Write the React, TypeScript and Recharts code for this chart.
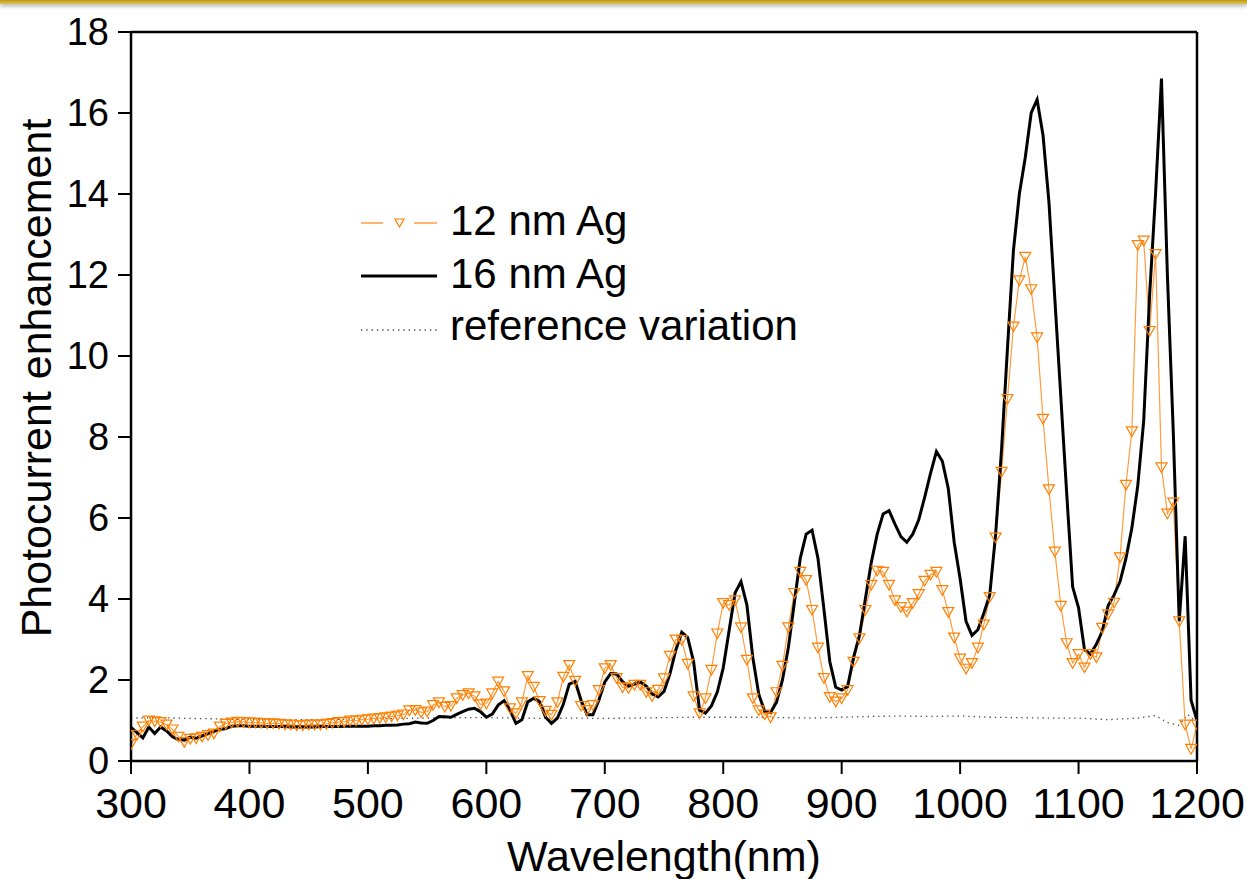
import React from "react";
import { LineChart, Line, XAxis, YAxis } from "recharts";

// wavelength grid (nm), 5 nm steps as measured
const wavelengths = [
  300, 305, 310, 315, 320, 325, 330, 335, 340, 345, 350, 355, 360, 365, 370, 375, 380, 385, 390, 395,
  400, 405, 410, 415, 420, 425, 430, 435, 440, 445, 450, 455, 460, 465, 470, 475, 480, 485, 490, 495,
  500, 505, 510, 515, 520, 525, 530, 535, 540, 545, 550, 555, 560, 565, 570, 575, 580, 585, 590, 595,
  600, 605, 610, 615, 620, 625, 630, 635, 640, 645, 650, 655, 660, 665, 670, 675, 680, 685, 690, 695,
  700, 705, 710, 715, 720, 725, 730, 735, 740, 745, 750, 755, 760, 765, 770, 775, 780, 785, 790, 795,
  800, 805, 810, 815, 820, 825, 830, 835, 840, 845, 850, 855, 860, 865, 870, 875, 880, 885, 890, 895,
  900, 905, 910, 915, 920, 925, 930, 935, 940, 945, 950, 955, 960, 965, 970, 975, 980, 985, 990, 995,
  1000, 1005, 1010, 1015, 1020, 1025, 1030, 1035, 1040, 1045, 1050, 1055, 1060, 1065, 1070, 1075, 1080, 1085, 1090, 1095,
  1100, 1105, 1110, 1115, 1120, 1125, 1130, 1135, 1140, 1145, 1150, 1155, 1160, 1165, 1170, 1175, 1180, 1185, 1190, 1195,
  1200,
];

const ag12 = [
  0.42, 0.65, 0.85, 1.0, 0.98, 0.96, 0.9, 0.78, 0.6, 0.47, 0.55, 0.56, 0.6, 0.64, 0.68, 0.85, 0.92, 0.95, 0.97, 0.96,
  0.95, 0.95, 0.94, 0.93, 0.93, 0.92, 0.9, 0.9, 0.88, 0.88, 0.9, 0.9, 0.9, 0.92, 0.94, 0.96, 0.97, 1.0, 1.0, 1.02,
  1.03, 1.05, 1.06, 1.08, 1.1, 1.12, 1.15, 1.25, 1.26, 1.2, 1.22, 1.38, 1.45, 1.34, 1.36, 1.55, 1.63, 1.67, 1.6, 1.4,
  1.42, 1.67, 1.96, 1.72, 1.3, 1.18, 1.45, 2.1, 1.83, 1.48, 1.24, 1.14, 1.45, 2.08, 2.37, 1.98, 1.36, 1.26, 1.38, 1.75,
  2.29, 2.37, 2.05, 1.82, 1.8, 1.88, 1.88, 1.7, 1.6, 1.76, 2.04, 2.6, 3.0, 2.99, 2.4, 1.6, 1.18, 1.55, 2.25, 3.15,
  3.9, 3.85, 3.97, 3.3, 2.5, 1.55, 1.25, 1.15, 1.08, 1.7, 2.35, 3.3, 4.15, 4.67, 4.47, 3.73, 2.8, 2.05, 1.58, 1.47,
  1.55, 1.75, 2.45, 3.03, 3.73, 4.35, 4.7, 4.67, 4.35, 3.97, 3.8, 3.69, 3.9, 4.12, 4.45, 4.6, 4.67, 4.22, 3.68, 3.05,
  2.53, 2.28, 2.42, 2.8, 3.37, 4.05, 5.52, 7.14, 8.94, 10.73, 11.87, 12.45, 11.65, 10.46, 8.45, 6.71, 5.17, 3.83, 2.91, 2.42,
  2.64, 2.31, 2.64, 2.56, 3.29, 3.62, 3.91, 5.03, 6.82, 8.14, 12.74, 12.85, 10.62, 12.52, 7.25, 6.11, 6.38, 3.45, 0.9, 0.3,
  0.9,
];

const ag16 = [
  0.83, 0.7, 0.57, 0.84, 0.68, 0.84, 0.74, 0.6, 0.53, 0.52, 0.59, 0.56, 0.62, 0.68, 0.74, 0.78, 0.8, 0.86, 0.87, 0.87,
  0.86, 0.86, 0.86, 0.85, 0.85, 0.85, 0.85, 0.84, 0.84, 0.84, 0.84, 0.84, 0.85, 0.85, 0.85, 0.85, 0.86, 0.86, 0.86, 0.86,
  0.86, 0.87, 0.87, 0.88, 0.88, 0.89, 0.91, 0.92, 0.96, 0.94, 0.93, 1.0, 1.1, 1.09, 1.08, 1.15, 1.22, 1.28, 1.3, 1.22,
  1.08, 1.16, 1.38, 1.49, 1.25, 0.93, 1.02, 1.46, 1.55, 1.46, 1.08, 0.93, 1.06, 1.4, 1.9, 1.96, 1.5, 1.14, 1.14, 1.5,
  1.95, 2.16, 2.15, 1.96, 1.85, 1.9, 1.95, 1.85, 1.66, 1.58, 1.72, 2.15, 2.74, 3.18, 3.05, 2.45, 1.26, 1.18, 1.36, 1.7,
  2.3, 3.23, 4.15, 4.43, 3.85, 2.55, 1.65, 1.22, 1.2, 1.45, 2.0, 2.8, 3.9, 5.0, 5.6, 5.7, 5.0, 3.75, 2.45, 1.82,
  1.75, 1.84, 2.55, 3.1, 4.0, 4.9, 5.6, 6.1, 6.18, 5.85, 5.54, 5.4, 5.6, 5.95, 6.5, 7.1, 7.64, 7.4, 6.73, 5.4,
  4.5, 3.45, 3.1, 3.24, 3.65, 4.1, 5.6, 7.7, 10.2, 12.6, 14.0, 14.9, 16.0, 16.33, 15.45, 13.8, 11.4, 9.0, 6.6, 4.3,
  3.78, 2.75, 2.64, 2.88, 3.2, 3.84, 4.1, 4.43, 5.0, 5.75, 6.8, 8.4, 11.5, 14.0, 16.85, 12.0, 8.1, 3.45, 5.55, 1.5,
  1.0,
];

const refWavelengths = [
  300, 325, 350, 375, 400, 425, 450, 475, 500, 525, 550, 575, 600, 625, 650, 675, 700, 725, 750, 775,
  800, 825, 850, 875, 900, 925, 950, 975, 1000, 1025, 1050, 1075, 1100, 1125, 1150, 1165, 1175, 1185, 1192, 1200,
];
const refVariation = [
  1.06, 1.07, 1.05, 1.04, 1.02, 1.02, 1.02, 1.03, 1.04, 1.05, 1.06, 1.07, 1.07, 1.06, 1.05, 1.06, 1.05, 1.06, 1.07, 1.08,
  1.08, 1.08, 1.07, 1.06, 1.08, 1.1, 1.11, 1.1, 1.11, 1.08, 1.07, 1.06, 1.06, 1.02, 1.06, 1.12, 0.95, 0.88, 1.15, 0.95,
];

const xMajorTicks = [300, 400, 500, 600, 700, 800, 900, 1000, 1100, 1200];
const xMinorTicks = [350, 450, 550, 650, 750, 850, 950, 1050, 1150];
const xTopTicks = [300, 350, 400, 450, 500, 550, 600, 650, 700, 750, 800, 850, 900, 950, 1000, 1050, 1100, 1150, 1200];
const yMajorTicks = [0, 2, 4, 6, 8, 10, 12, 14, 16, 18];
const yMinorTicks = [1, 3, 5, 7, 9, 11, 13, 15, 17];
const yRightTicks = [0, 1, 2, 3, 4, 5, 6, 7, 8, 9, 10, 11, 12, 13, 14, 15, 16, 17, 18];

const legendLabels = ["12 nm Ag", "16 nm Ag", "reference variation"];
const xTitle = "Wavelength(nm)";
const yTitle = "Photocurrent enhancement";

const rows = wavelengths.map((wl, i) => ({ wl, ag12: ag12[i], ag16: ag16[i] }));
const refRows = refWavelengths.map((wl, i) => ({ wl, ref: refVariation[i] }));

const FONT = "'Liberation Sans', Arial, Helvetica, sans-serif";
const ORANGE = "#ff8000";
const ORANGE_LINE = "#ff9c3f";

function TriangleDot(props: any) {
  const { cx, cy, index } = props;
  if (cx == null || cy == null) return null;
  const h = 5.5;
  return (
    <path
      key={`tri-${index}`}
      d={`M${cx - h},${cy - h * 0.8} L${cx + h},${cy - h * 0.8} L${cx},${cy + h * 0.95} Z`}
      fill="none"
      stroke={ORANGE}
      strokeWidth={1.2}
    />
  );
}

export default function App() {
  const axisStroke = { stroke: "#000", strokeWidth: 2.5 };
  const tickStroke = { stroke: "#000", strokeWidth: 2 };
  return (
    <div style={{ position: "absolute", left: 0, top: 0, width: 1247, height: 879, background: "#fff", overflow: "hidden" }}>
      <div
        style={{
          position: "absolute",
          left: 0,
          top: 0,
          width: 1247,
          height: 4,
          background: "linear-gradient(#b9971c, #e2c54c)",
          boxShadow: "0 2px 4px rgba(0,0,0,0.35)",
        }}
      />
      <LineChart width={1247} height={879} data={rows} margin={{ top: 32, right: 50, bottom: 118, left: 131 }}>
        <XAxis
          xAxisId="x"
          dataKey="wl"
          type="number"
          domain={[300, 1200]}
          allowDataOverflow
          ticks={xMajorTicks}
          interval={0}
          height={0.01}
          tickSize={13}
          tickMargin={13}
          axisLine={axisStroke}
          tickLine={tickStroke}
          tick={{ fontSize: 43, fill: "#000", fontFamily: FONT }}
        />
        <XAxis
          xAxisId="xMinor"
          dataKey="wl"
          type="number"
          domain={[300, 1200]}
          allowDataOverflow
          ticks={xMinorTicks}
          interval={0}
          height={0.01}
          tickSize={7}
          axisLine={false}
          tickLine={tickStroke}
          tick={false}
        />
        <XAxis
          xAxisId="xTop"
          orientation="top"
          mirror
          dataKey="wl"
          type="number"
          domain={[300, 1200]}
          allowDataOverflow
          ticks={xTopTicks}
          interval={0}
          height={0.01}
          tickSize={7}
          axisLine={axisStroke}
          tickLine={tickStroke}
          tick={false}
        />
        <YAxis
          yAxisId="y"
          type="number"
          domain={[0, 18]}
          allowDataOverflow
          ticks={yMajorTicks}
          interval={0}
          width={0.01}
          tickSize={13}
          tickMargin={9}
          axisLine={axisStroke}
          tickLine={tickStroke}
          tick={{ fontSize: 38, fill: "#000", fontFamily: FONT }}
        />
        <YAxis
          yAxisId="yMinor"
          type="number"
          domain={[0, 18]}
          allowDataOverflow
          ticks={yMinorTicks}
          interval={0}
          width={0.01}
          tickSize={7}
          axisLine={false}
          tickLine={tickStroke}
          tick={false}
        />
        <YAxis
          yAxisId="yRight"
          orientation="right"
          mirror
          type="number"
          domain={[0, 18]}
          allowDataOverflow
          ticks={yRightTicks}
          interval={0}
          width={0.01}
          tickSize={12}
          axisLine={axisStroke}
          tickLine={tickStroke}
          tick={false}
        />
        <Line
          xAxisId="x"
          yAxisId="y"
          data={refRows}
          dataKey="ref"
          type="linear"
          stroke="#444"
          strokeWidth={1.3}
          strokeDasharray="1.3 4"
          dot={false}
          isAnimationActive={false}
        />
        <Line
          xAxisId="x"
          yAxisId="y"
          dataKey="ag12"
          type="linear"
          stroke={ORANGE_LINE}
          strokeWidth={1.2}
          dot={TriangleDot}
          isAnimationActive={false}
        />
        <Line
          xAxisId="x"
          yAxisId="y"
          dataKey="ag16"
          type="linear"
          stroke="#000"
          strokeWidth={3}
          dot={false}
          isAnimationActive={false}
        />
      </LineChart>
      <svg width={1247} height={879} style={{ position: "absolute", left: 0, top: 0, pointerEvents: "none" }}>
        <g fontFamily={FONT} fill="#000">
          <text x={664} y={871} fontSize={43} textAnchor="middle">
            {xTitle}
          </text>
          <text transform="translate(51,378) rotate(-90)" fontSize={43} textAnchor="middle">
            {yTitle}
          </text>
          {/* legend */}
          <line x1={361} y1={223} x2={383} y2={223} stroke={ORANGE_LINE} strokeWidth={1.5} />
          <line x1={414} y1={223} x2={437} y2={223} stroke={ORANGE_LINE} strokeWidth={1.5} />
          <path d="M395,219 L404,219 L399.5,227 Z" fill="none" stroke={ORANGE} strokeWidth={1.2} />
          <text x={450} y={235} fontSize={42}>
            {legendLabels[0]}
          </text>
          <line x1={361} y1={276} x2={437} y2={276} stroke="#000" strokeWidth={3} />
          <text x={450} y={288} fontSize={42}>
            {legendLabels[1]}
          </text>
          <line x1={361} y1={330} x2={437} y2={330} stroke="#444" strokeWidth={1.3} strokeDasharray="1.3 4" />
          <text x={450} y={340} fontSize={42}>
            {legendLabels[2]}
          </text>
        </g>
      </svg>
    </div>
  );
}
